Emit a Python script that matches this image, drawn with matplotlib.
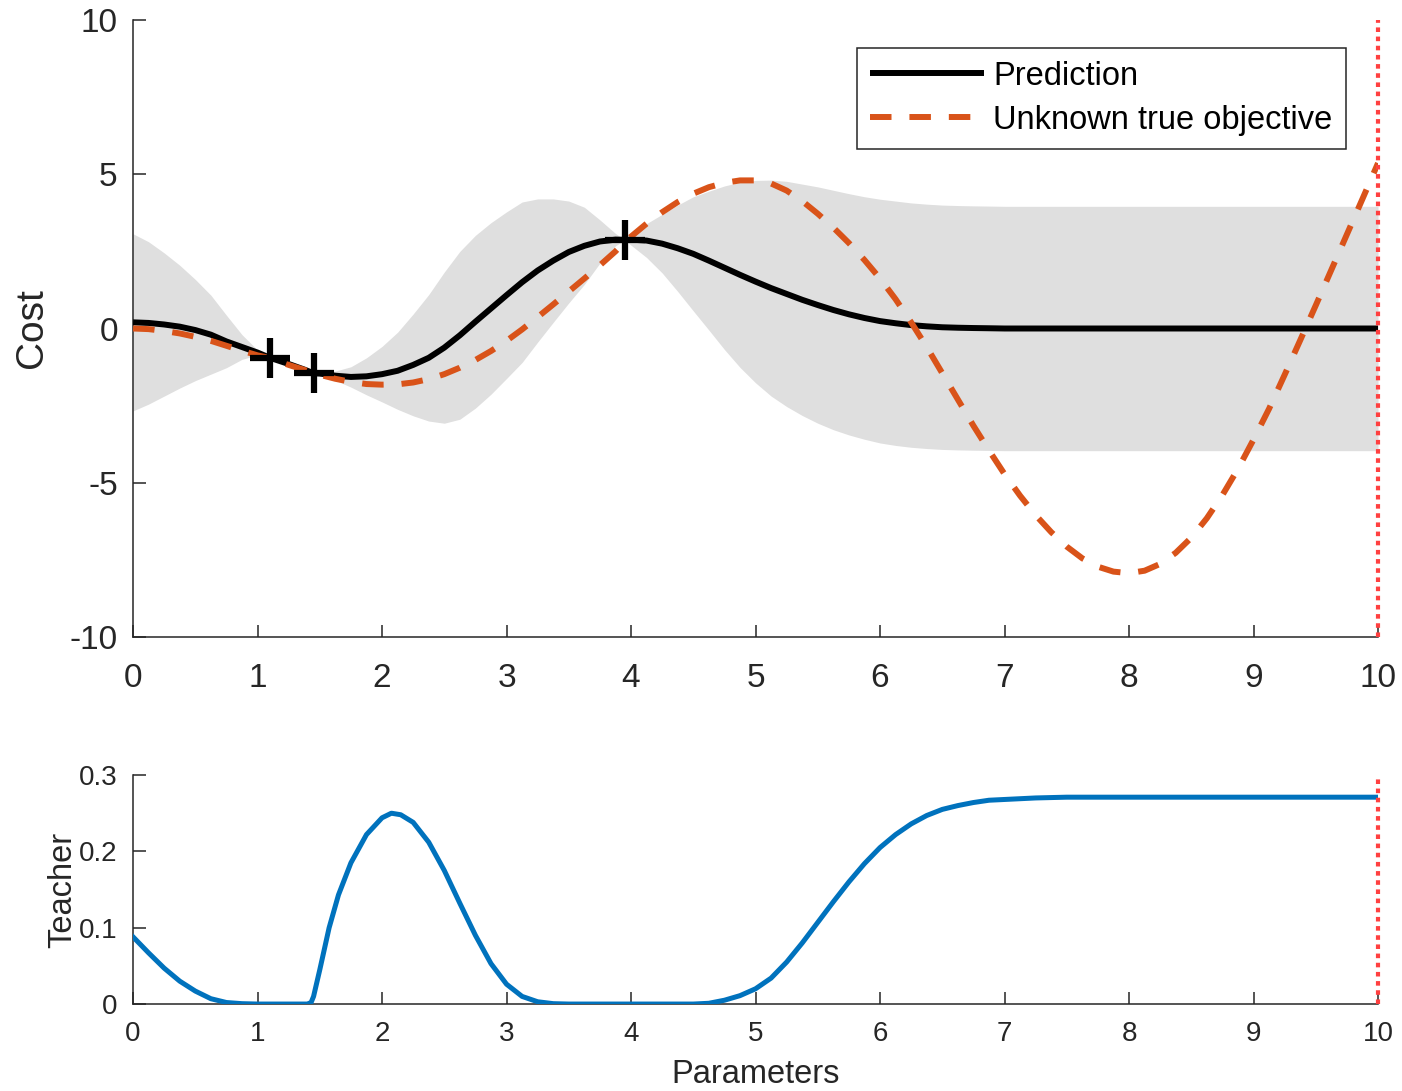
import matplotlib
matplotlib.use('Agg')
import matplotlib.pyplot as plt
import numpy as np

plt.rcParams['font.family'] = ['Liberation Sans', 'DejaVu Sans']
plt.rcParams['axes.unicode_minus'] = False

# ---------------- data ----------------
x_top = [0, 0.125, 0.25, 0.375, 0.5, 0.625, 0.75, 0.875, 1.0, 1.1, 1.25, 1.375, 1.45,
         1.5, 1.625, 1.75, 1.875, 2.0, 2.125, 2.25, 2.375, 2.5, 2.625, 2.75, 2.875,
         3.0, 3.125, 3.25, 3.375, 3.5, 3.625, 3.75, 3.875, 3.95,
         4.0, 4.125, 4.25, 4.375, 4.5, 4.625, 4.75, 4.875,
         5.0, 5.125, 5.25, 5.375, 5.5, 5.625, 5.75, 5.875,
         6.0, 6.125, 6.25, 6.375, 6.5, 6.625, 6.75, 6.875,
         7.0, 7.125, 7.25, 7.375, 7.5, 7.625, 7.75, 7.875,
         8.0, 8.125, 8.25, 8.375, 8.5, 8.625, 8.75, 8.875,
         9.0, 9.125, 9.25, 9.375, 9.5, 9.625, 9.75, 9.875, 10.0]

true_objective = [0.0, -0.02, -0.08, -0.16, -0.27, -0.4, -0.56, -0.72, -0.87, -0.96,
                  -1.18, -1.34, -1.45,
                  -1.5, -1.63, -1.73, -1.8, -1.82, -1.81, -1.75, -1.64, -1.48, -1.27,
                  -1.02, -0.73, -0.4, -0.03, 0.37, 0.78, 1.2, 1.62, 2.05, 2.5, 2.82,
                  2.98, 3.4, 3.77, 4.1, 4.37, 4.58, 4.72, 4.8,
                  4.8, 4.7, 4.47, 4.13, 3.72, 3.27, 2.77, 2.22,
                  1.62, 0.95, 0.2, -0.6, -1.45, -2.3, -3.15, -3.95,
                  -4.72, -5.42, -6.05, -6.6, -7.07, -7.45, -7.72, -7.88,
                  -7.93, -7.85, -7.63, -7.27, -6.78, -6.15, -5.4, -4.55,
                  -3.6, -2.6, -1.5, -0.38, 0.75, 1.9, 3.05, 4.2, 5.36]

prediction = [0.2, 0.18, 0.13, 0.06, -0.05, -0.2, -0.42, -0.6, -0.78, -0.95,
              -1.15, -1.33, -1.45,
              -1.46, -1.53, -1.57, -1.55, -1.48, -1.37, -1.18, -0.95, -0.62, -0.22,
              0.22, 0.65, 1.08, 1.5, 1.88, 2.2, 2.48, 2.68, 2.82, 2.88, 2.87,
              2.88, 2.85, 2.75, 2.6, 2.42, 2.2, 1.97, 1.74,
              1.52, 1.31, 1.12, 0.93, 0.76, 0.6, 0.46, 0.34,
              0.24, 0.17, 0.11, 0.07, 0.04, 0.025, 0.015, 0.008,
              0, 0, 0, 0, 0, 0, 0, 0,
              0, 0, 0, 0, 0, 0, 0, 0,
              0, 0, 0, 0, 0, 0, 0, 0, 0]

# half-width of the grey confidence band around the prediction
band_half = [2.87, 2.63, 2.32, 1.99, 1.64, 1.28, 0.85, 0.4, 0.08, 0.0,
             0.04, 0.03, 0.0,
             0.04, 0.15, 0.33, 0.6, 0.9, 1.25, 1.65, 2.05, 2.45, 2.72,
             2.8, 2.78, 2.7, 2.6, 2.32, 2.0, 1.65, 1.25, 0.7, 0.2, 0.0,
             0.18, 0.55, 0.95, 1.4, 1.85, 2.25, 2.65, 3.0,
             3.28, 3.5, 3.65, 3.75, 3.83, 3.88, 3.91, 3.93,
             3.95, 3.96, 3.96, 3.96, 3.96, 3.96, 3.96, 3.96,
             3.96, 3.96, 3.96, 3.96, 3.96, 3.96, 3.96, 3.96,
             3.96, 3.96, 3.96, 3.96, 3.96, 3.96, 3.96, 3.96,
             3.96, 3.96, 3.96, 3.96, 3.96, 3.96, 3.96, 3.96, 3.96]

obs_x = [1.1, 1.45, 3.95]
obs_y = [-0.95, -1.45, 2.87]

current_x = 10.0

teacher_x = [0, 0.125, 0.25, 0.375, 0.5, 0.625, 0.75, 0.875, 1.0, 1.25, 1.4, 1.43,
             1.45, 1.5, 1.575, 1.65, 1.75, 1.875, 2.0, 2.075, 2.15, 2.25, 2.375,
             2.5, 2.625, 2.75, 2.875, 3.0, 3.125, 3.25, 3.375, 3.5, 4.0, 4.5,
             4.625, 4.75, 4.875, 5.0, 5.125, 5.25, 5.375, 5.5, 5.625, 5.75,
             5.875, 6.0, 6.125, 6.25, 6.375, 6.5, 6.625, 6.75, 6.875, 7.0, 7.25,
             7.5, 8.0, 9.0, 10.0]
teacher_y = [0.088, 0.067, 0.047, 0.03, 0.017, 0.007, 0.002, 0.0005, 0, 0, 0, 0.002,
             0.01, 0.045, 0.1, 0.143, 0.185, 0.222, 0.244, 0.25, 0.248, 0.238, 0.212,
             0.175, 0.132, 0.09, 0.053, 0.026, 0.01, 0.003, 0.0005, 0, 0, 0,
             0.001, 0.005, 0.011, 0.02, 0.034, 0.055, 0.08, 0.107, 0.134, 0.16,
             0.184, 0.205, 0.222, 0.236, 0.247, 0.255, 0.26, 0.264, 0.267, 0.268,
             0.27, 0.271, 0.271, 0.271, 0.271]

x_ticks = [0, 1, 2, 3, 4, 5, 6, 7, 8, 9, 10]
cost_ticks = [-10, -5, 0, 5, 10]
teacher_ticks = [0, 0.1, 0.2, 0.3]
teacher_ticklabels = ['0', '0.1', '0.2', '0.3']

# ---------------- style ----------------
AX_COL = '#262626'
ORANGE = '#D95319'
BLUE = '#0072BD'
GREY = '#dfdfdf'
RED = '#ff4040'

fig = plt.figure(figsize=(14.02, 10.91), dpi=100)

def style(ax, fs, xpad, ypad):
    for s in ['top', 'right']:
        ax.spines[s].set_visible(False)
    for s in ['left', 'bottom']:
        ax.spines[s].set_color(AX_COL)
        ax.spines[s].set_linewidth(1.1)
    ax.tick_params(direction='in', length=9, width=1.1, colors=AX_COL,
                   labelsize=fs)
    ax.tick_params(axis='x', pad=xpad)
    ax.tick_params(axis='y', pad=ypad)

pred_arr = np.array(prediction)
half_arr = np.array(band_half)

# top axes
ax1 = fig.add_axes([0.0949, 0.4161, 0.8880, 0.5656])
ax1.fill_between(x_top, pred_arr - half_arr, pred_arr + half_arr,
                 color=GREY, linewidth=0, zorder=1)
l1, = ax1.plot(x_top, prediction, color='black', lw=4.3, zorder=3,
               solid_capstyle='butt', solid_joinstyle='round', label='Prediction')
l2, = ax1.plot(x_top, true_objective, color=ORANGE, lw=4.3, zorder=4,
               dashes=(3.6, 3.0), dash_capstyle='butt',
               label='Unknown true objective')
ax1.plot(obs_x, obs_y, linestyle='none', marker='+', markersize=29,
         markeredgewidth=4.5, color='black', zorder=5)
ax1.axvline(current_x, color=RED, lw=3.0, dashes=(1.1, 1.1), zorder=6,
            clip_on=False)
ax1.set_xlim(0, 10)
ax1.set_ylim(-10, 10)
ax1.set_xticks(x_ticks)
ax1.set_yticks(cost_ticks)
style(ax1, 24, 19, 11)
ax1.set_ylabel('Cost', fontsize=28, color=AX_COL, labelpad=14)
leg = ax1.legend(handles=[l1, l2], loc='upper right',
                 bbox_to_anchor=(0.974, 0.955), fontsize=23.5,
                 handlelength=3.47, handletextpad=0.3, borderpad=0.4,
                 labelspacing=0.4, fancybox=False, framealpha=1,
                 edgecolor=AX_COL, borderaxespad=0)
leg.get_frame().set_linewidth(1.1)
for t in leg.get_texts():
    t.set_color('black')

# bottom axes
ax2 = fig.add_axes([0.0949, 0.0797, 0.8880, 0.2099])
ax2.plot(teacher_x, teacher_y, color=BLUE, lw=3.6, zorder=3,
         solid_joinstyle='round')
ax2.axvline(current_x, color=RED, lw=3.0, dashes=(1.1, 1.1), zorder=6,
            clip_on=False)
ax2.set_xlim(0, 10)
ax2.set_ylim(0, 0.3)
ax2.set_xticks(x_ticks)
ax2.set_yticks(teacher_ticks)
ax2.set_yticklabels(teacher_ticklabels)
style(ax2, 20, 12, 11)
ax2.set_ylabel('Teacher', fontsize=23.5, color=AX_COL, labelpad=1)
ax2.set_xlabel('Parameters', fontsize=23.5, color=AX_COL, labelpad=9)

fig.savefig('out.png', dpi=100)
